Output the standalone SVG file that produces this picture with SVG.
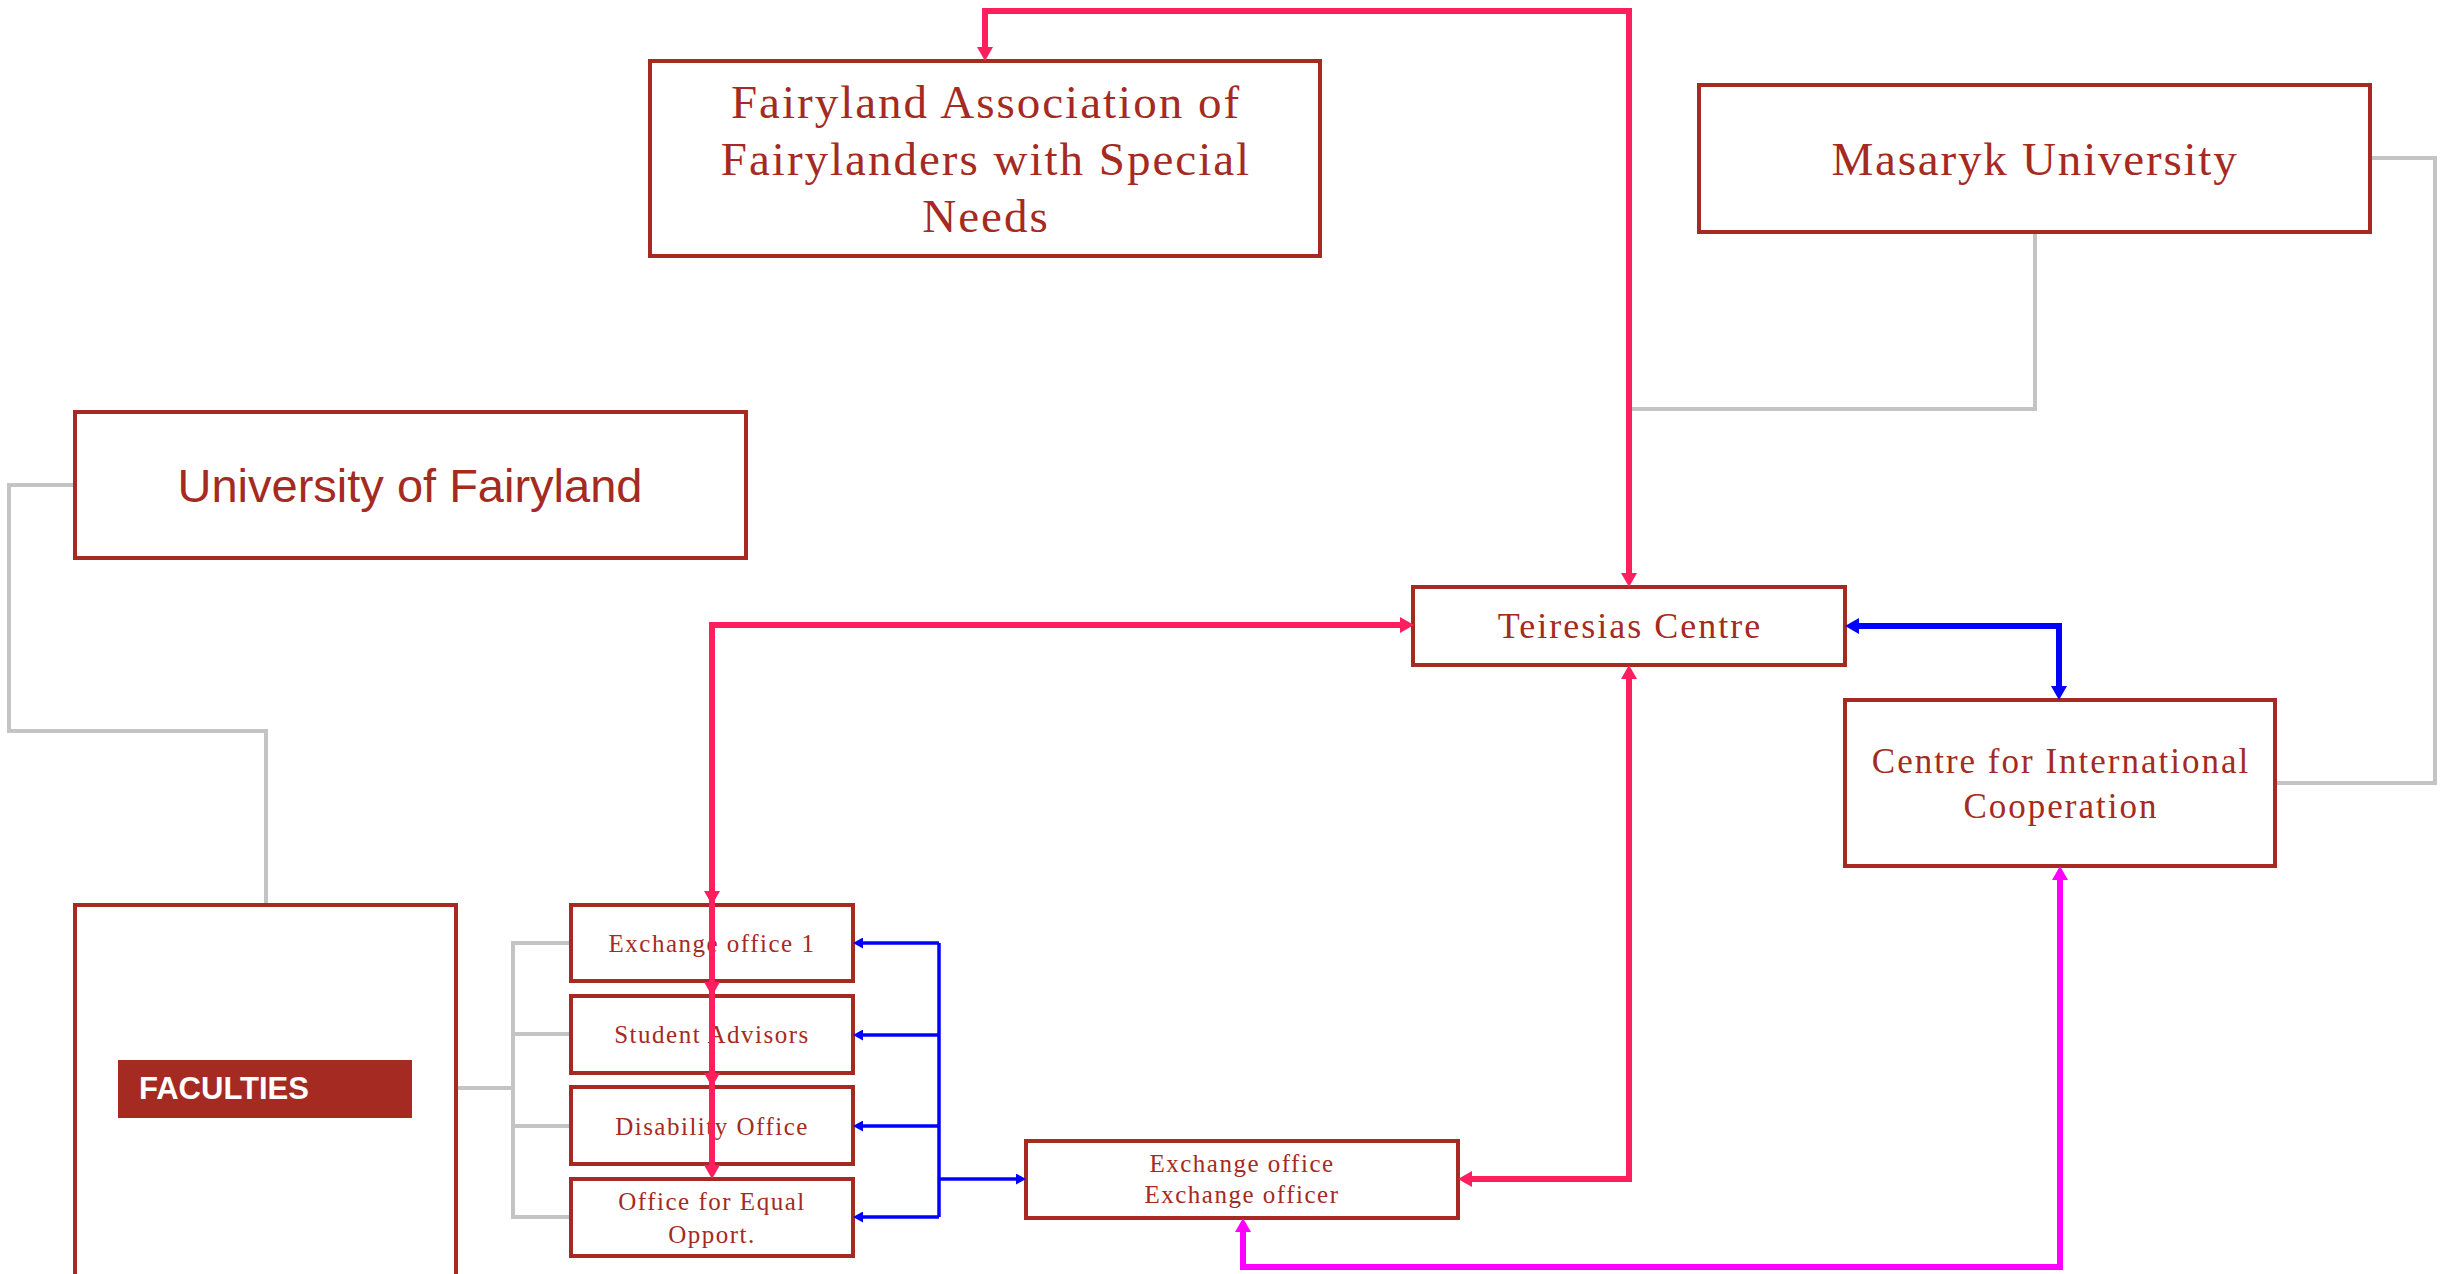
<svg xmlns="http://www.w3.org/2000/svg" width="2458" height="1274" viewBox="0 0 2458 1274">
<style>
.box{fill:#fff;stroke:#A52A22;stroke-width:4}
.t{font-family:"Liberation Serif","Times New Roman",serif;fill:#A52A22;text-anchor:middle}
.s{font-family:"Liberation Sans",Arial,sans-serif;fill:#A52A22;text-anchor:middle}
.g{fill:none;stroke:#C4C4C4;stroke-width:4}
.pk{fill:none;stroke:#FF1F5F;stroke-width:6}
.bl{fill:none;stroke:#0000FF;stroke-width:6}
.bt{fill:none;stroke:#0000FF;stroke-width:3.5}
.mg{fill:none;stroke:#FF00FF;stroke-width:6}
</style>
<defs>
<marker id="ap" markerUnits="userSpaceOnUse" markerWidth="14" markerHeight="16" refX="0" refY="8" orient="auto-start-reverse" viewBox="0 0 14 16"><path d="M0,0 L14,8 L0,16 z" fill="#FF1F5F"/></marker>
<marker id="ab" markerUnits="userSpaceOnUse" markerWidth="14" markerHeight="16" refX="0" refY="8" orient="auto-start-reverse" viewBox="0 0 14 16"><path d="M0,0 L14,8 L0,16 z" fill="#0000FF"/></marker>
<marker id="at" markerUnits="userSpaceOnUse" markerWidth="10" markerHeight="11" refX="0" refY="5.5" orient="auto-start-reverse" viewBox="0 0 10 11"><path d="M0,0 L10,5.5 L0,11 z" fill="#0000FF"/></marker>
<marker id="am" markerUnits="userSpaceOnUse" markerWidth="14" markerHeight="16" refX="0" refY="8" orient="auto-start-reverse" viewBox="0 0 14 16"><path d="M0,0 L14,8 L0,16 z" fill="#FF00FF"/></marker>
</defs>
<rect width="2458" height="1274" fill="#fff"/>

<g id="fairyland-association">
<rect class="box" x="650" y="61" width="670" height="195"/>
<text class="t" font-size="47" letter-spacing="2" x="986" y="118">Fairyland Association of</text>
<text class="t" font-size="47" letter-spacing="2" x="986" y="175">Fairylanders with Special</text>
<text class="t" font-size="47" letter-spacing="2" x="986" y="232">Needs</text>
</g>

<g id="masaryk-university">
<rect class="box" x="1699" y="85" width="671" height="147"/>
<text class="t" font-size="47" letter-spacing="1.8" x="2035" y="175">Masaryk University</text>
</g>

<g id="university-of-fairyland">
<rect class="box" x="75" y="412" width="671" height="146"/>
<text class="s" font-size="47" x="410" y="502">University of Fairyland</text>
</g>

<g id="faculties">
<rect class="box" x="75" y="905" width="381" height="380"/>
<rect x="118" y="1060" width="294" height="58" fill="#A52A22"/>
<text font-family="'Liberation Sans',Arial,sans-serif" font-weight="bold" font-size="31" fill="#fff" x="139" y="1099">FACULTIES</text>
</g>

<g id="exchange-office-1">
<rect class="box" x="571" y="905" width="282" height="76"/>
<text class="t" font-size="25" letter-spacing="1.5" x="712" y="952">Exchange office 1</text>
</g>

<g id="student-advisors">
<rect class="box" x="571" y="996" width="282" height="77"/>
<text class="t" font-size="25" letter-spacing="1.5" x="712" y="1043">Student Advisors</text>
</g>

<g id="disability-office">
<rect class="box" x="571" y="1087" width="282" height="77"/>
<text class="t" font-size="25" letter-spacing="1.5" x="712" y="1135">Disability Office</text>
</g>

<g id="office-equal-opport">
<rect class="box" x="571" y="1179" width="282" height="77"/>
<text class="t" font-size="25" letter-spacing="1.5" x="712" y="1210">Office for Equal</text>
<text class="t" font-size="25" letter-spacing="1.5" x="712" y="1243">Opport.</text>
</g>

<g id="teiresias-centre">
<rect class="box" x="1413" y="587" width="432" height="78"/>
<text class="t" font-size="36" letter-spacing="2" x="1630" y="638">Teiresias Centre</text>
</g>

<g id="centre-international-cooperation">
<rect class="box" x="1845" y="700" width="430" height="166"/>
<text class="t" font-size="35" letter-spacing="2" x="2061" y="773">Centre for International</text>
<text class="t" font-size="35" letter-spacing="2" x="2061" y="818">Cooperation</text>
</g>

<g id="exchange-office">
<rect class="box" x="1026" y="1141" width="432" height="77"/>
<text class="t" font-size="25" letter-spacing="1.5" x="1242" y="1172">Exchange office</text>
<text class="t" font-size="25" letter-spacing="1.5" x="1242" y="1203">Exchange officer</text>
</g>

<g id="connectors">
<path class="g" d="M73,485 H9 V731 H266 V903"/>
<path class="g" d="M2372,158 H2435 V783 H2277"/>
<path class="g" d="M2035,234 V409 H1629"/>
<path class="g" d="M458,1088 H513"/>
<path class="g" d="M569,943 H513 V1217 H569"/>
<path class="g" d="M513,1034 H569"/>
<path class="g" d="M513,1126 H569"/>

<path class="pk" d="M985,47 V11 H1629 V573" marker-start="url(#ap)" marker-end="url(#ap)"/>
<path class="pk" d="M712,891 V625 H1400" marker-start="url(#ap)" marker-end="url(#ap)"/>
<path class="pk" d="M712,982 V625" marker-start="url(#ap)"/>
<path class="pk" d="M712,1073 V625" marker-start="url(#ap)"/>
<path class="pk" d="M712,1165 V625" marker-start="url(#ap)"/>
<path class="pk" d="M1472,1179 H1629 V679" marker-start="url(#ap)" marker-end="url(#ap)"/>

<path class="bl" d="M1859,626 H2059 V686" marker-start="url(#ab)" marker-end="url(#ab)"/>
<path class="mg" d="M1243,1232 V1267 H2060 V880" marker-start="url(#am)" marker-end="url(#am)"/>

<path class="bt" d="M939,943 V1217"/>
<path class="bt" d="M939,943 H863" marker-end="url(#at)"/>
<path class="bt" d="M939,1035 H863" marker-end="url(#at)"/>
<path class="bt" d="M939,1126 H863" marker-end="url(#at)"/>
<path class="bt" d="M939,1217 H863" marker-end="url(#at)"/>
<path class="bt" d="M939,1179 H1016" marker-end="url(#at)"/>
</g>
</svg>
